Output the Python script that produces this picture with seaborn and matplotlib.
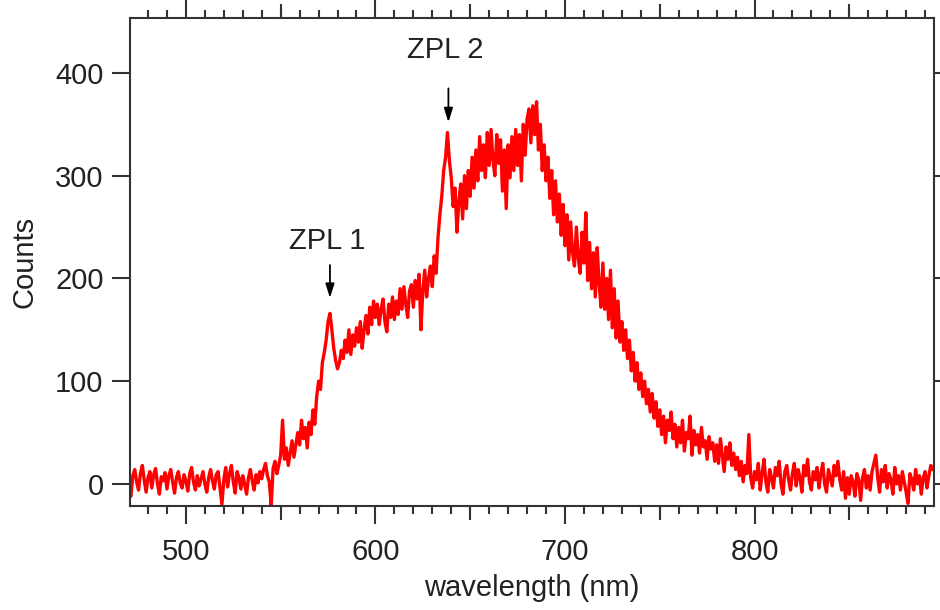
import numpy as np
import pandas as pd
import matplotlib
matplotlib.use("Agg")
import matplotlib.pyplot as plt
import seaborn as sns
from matplotlib.ticker import MultipleLocator, FixedLocator

# ---- data (1 nm steps from 470 to 894 nm) ----
wl_start = 470
counts = [
    5, -12, 8, 14, 2, -6, 10, 18, 4, -8,
    6, 12, -4, 9, 15, 0, -10, 7, 3, 11,
    -5, 8, 14, 2, -9, 6, 12, 1, -4, 9,
    3, -7, 10, 16, 2, -6, 8, -2, 5, 12,
    0, -8, 6, 14, 3, -5, 9, 12, -4, -20,
    4, 16, -3, 10, 18, 2, -9, 12, 6, -5,
    8, 0, -10, 6, 14, 3, -6, 9, 1, 12,
    5, 14, 20, 8, 2, -21, 15, 22, 10, 18,
    28, 62, 24, 35, 18, 30, 42, 26, 38, 50,
    38, 62, 44, 55, 35, 60, 48, 72, 58, 85,
    100, 92, 118, 128, 140, 158, 166, 150, 132, 120,
    112, 118, 130, 122, 140, 128, 150, 126, 145, 134,
    152, 138, 158, 132, 150, 164, 146, 172, 155, 178,
    162, 175, 155, 170, 180, 158, 148, 175, 162, 182,
    160, 178, 165, 190, 170, 192, 175, 162, 188, 194,
    172, 198, 180, 204, 150, 188, 208, 182, 200, 212,
    192, 222, 205, 240, 262, 280, 305, 318, 342, 315,
    298, 270, 288, 245, 275, 292, 258, 300, 268, 305,
    280, 318, 288, 325, 295, 338, 305, 330, 298, 342,
    310, 345, 315, 300, 340, 312, 335, 285, 325, 268,
    330, 298, 338, 305, 345, 310, 340, 295, 350, 320,
    355, 365, 332, 368, 340, 372, 325, 350, 305, 330,
    295, 318, 278, 305, 262, 295, 255, 282, 242, 272,
    232, 262, 218, 255, 225, 212, 250, 220, 205, 245,
    215, 264, 198, 235, 190, 225, 182, 230, 195, 172,
    215, 170, 200, 160, 208, 152, 190, 142, 178, 138,
    158, 130, 150, 122, 140, 110, 128, 100, 118, 92,
    108, 85, 100, 78, 92, 70, 88, 64, 80, 56,
    72, 48, 66, 40, 62, 52, 70, 44, 58, 36,
    55, 40, 62, 32, 50, 44, 66, 28, 52, 38,
    48, 30, 55, 36, 42, 24, 46, 34, 40, 22,
    38, 20, 44, 28, 12, 36, 24, 40, 18, 30,
    14, 26, 8, 22, 2, 18, 10, 48, 6, -4,
    12, 4, 20, -6, 10, 24, 2, -8, 14, 6,
    -4, 16, 8, 22, 0, -10, 12, 18, 4, -6,
    10, 20, -2, 14, 6, -8, 18, 8, 24, 2,
    -6, 12, 4, 16, -4, 10, 20, 0, -8, 14,
    6, -2, 18, 8, 22, 4, -6, 12, -14, 6,
    -10, 8, 2, -12, 10, 4, -16, 6, 14, -4,
    8, -6, 12, 20, 28, 6, -8, 14, 2, 18,
    -4, 10, 4, -10, 16, 0, 8, -6, 12, 2,
    -8, -19, 10, 4, -6, 14, 0, 8, -10, 6,
    12, -4, 8, 18, 14,
]
wavelength = list(range(wl_start, wl_start + len(counts)))

x_ticks = [500, 600, 700, 800]
x_mid_ticks = [550, 650, 750, 850]
y_ticks = [0, 100, 200, 300, 400]

annotations = [
    ("ZPL 1", 576, 213, 181, 236),
    ("ZPL 2", 638.5, 385, 352, 422),
]

# ---- plot ----
sns.set_theme(style="white")
plt.rcParams["font.family"] = ["Liberation Sans", "DejaVu Sans"]
text_color = "#222222"
spine_color = "#333333"

df = pd.DataFrame({"wavelength": wavelength, "counts": counts})

fig = plt.figure(figsize=(9.4, 6.1), dpi=100)
ax = fig.add_axes([130 / 940, 1 - 506 / 610, (934 - 130) / 940, (506 - 18) / 610])

sns.lineplot(data=df, x="wavelength", y="counts", ax=ax, color="#ff0000",
             linewidth=2.4, estimator=None)

ax.set_xlim(470.5, 894.7)
ax.set_ylim(-21.5, 453.5)

for s in ax.spines.values():
    s.set_visible(True)
    s.set_color(spine_color)
    s.set_linewidth(1.5)

ax.xaxis.set_major_locator(FixedLocator(x_ticks))
ax.xaxis.set_minor_locator(MultipleLocator(10))
ax.yaxis.set_major_locator(FixedLocator(y_ticks))

ax.tick_params(axis="x", which="major", direction="out", length=13, width=1.5,
               color=spine_color, top=True, bottom=True, labelsize=21,
               labelcolor=text_color, pad=10)
ax.tick_params(axis="x", which="minor", direction="out", length=6, width=1.5,
               color=spine_color, top=True, bottom=True)
ax.tick_params(axis="y", which="major", direction="out", length=13, width=1.5,
               color=spine_color, left=True, right=True, labelsize=21,
               labelcolor=text_color, pad=6)

for loc in ("bottom", "top"):
    sec = ax.secondary_xaxis(loc)
    sec.set_xticks(x_mid_ticks)
    sec.tick_params(direction="out", length=10, width=1.5, color=spine_color,
                    labelbottom=False, labeltop=False)
    sec.spines[loc].set_visible(False)

ax.set_xlabel("wavelength (nm)", fontsize=21, color=text_color, labelpad=6)
ax.set_ylabel("Counts", fontsize=21, color=text_color, labelpad=12)

for label, xa, y0, y1, yt in annotations:
    ax.annotate("", xy=(xa, y1), xytext=(xa, y0),
                arrowprops=dict(arrowstyle="-|>,head_width=0.22,head_length=0.7",
                                color="black", lw=1.3, shrinkA=0, shrinkB=0))
    ax.text(xa - 1.5, yt, label, fontsize=21, color=text_color,
            ha="center", va="center")

fig.savefig("out.png", dpi=100)
